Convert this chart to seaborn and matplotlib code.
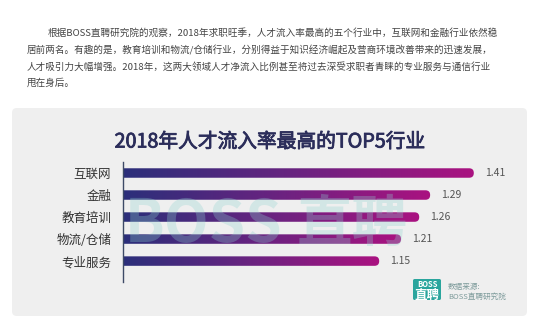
import numpy as np
import pandas as pd
import matplotlib.pyplot as plt
import matplotlib.patheffects as pe
import seaborn as sns
from matplotlib.colors import LinearSegmentedColormap
from matplotlib.patches import FancyBboxPatch

# 数据
industries = ['互联网', '金融', '教育培训', '物流/仓储', '专业服务']
inflow_rate = [1.41, 1.29, 1.26, 1.21, 1.15]
value_labels = ['1.41', '1.29', '1.26', '1.21', '1.15']

title = '2018年人才流入率最高的TOP5行业'
intro_lines = [
    '根据BOSS直聘研究院的观察，2018年求职旺季，人才流入率最高的五个行业中，互联网和金融行业依然稳',
    '居前两名。有趣的是，教育培训和物流/仓储行业，分别得益于知识经济崛起及营商环境改善带来的迅速发展，',
    '人才吸引力大幅增强。2018年，这两大领域人才净流入比例甚至将过去深受求职者青睐的专业服务与通信行业',
    '甩在身后。',
]
source_lines = ['数据来源:', 'BOSS直聘研究院']

sns.set_theme(style='white')
plt.rcParams['font.family'] = ['Noto Sans CJK SC', 'DejaVu Sans']

W, H = 544, 335
fig = plt.figure(figsize=(W / 100, H / 100), dpi=100)
fig.patch.set_facecolor('white')


def fx(x):
    return x / W


def fy(y):
    return 1 - y / H


# 灰色背景面板
panel = FancyBboxPatch((fx(12), fy(316)), (527 - 12) / W, (316 - 108) / H,
                       boxstyle='round,pad=0,rounding_size=0.009', mutation_aspect=W / H,
                       transform=fig.transFigure, facecolor='#efefef', edgecolor='none', zorder=-1)
fig.patches.append(panel)

# 导语文字
x_starts = [48, 27, 27, 27]
y_lines = [33, 50, 67, 83]
for line, xs, ys in zip(intro_lines, x_starts, y_lines):
    fig.text(fx(xs), fy(ys), line, ha='left', va='center', fontsize=6.9, color='#444444')

# 标题（加细描边，接近中等粗细）
fig.text(fx(270), fy(142), title, ha='center', va='center', fontsize=14.2,
         color='#2b2d5a', path_effects=[pe.withStroke(linewidth=0.6, foreground='#2b2d5a')])

# 条形图
ax = fig.add_axes([fx(123), fy(282), (500 - 123) / W, 120 / H])
ax.patch.set_alpha(0)
df = pd.DataFrame({'industry': industries, 'rate': inflow_rate})
sns.barplot(data=df, x='rate', y='industry', orient='h', width=0.43, color='#2b2f7a', ax=ax)

xlim = (0.446, 1.482)
ylim = (4.95, -0.5)
ax.set_xlim(xlim)
ax.set_ylim(ylim)

xpp = (xlim[1] - xlim[0]) / 377
ypp = (ylim[0] - ylim[1]) / 120
asp = ypp / xpp

# 渐变条：从深蓝到品红，右端圆角
cmap = LinearSegmentedColormap.from_list('bar', ['#2b2f7a', '#6a2380', '#aa1280'])
grad = np.linspace(0, 1, 256).reshape(1, -1)
for p in ax.patches:
    p.set_visible(False)
    y0, hh, x1 = p.get_y(), p.get_height(), p.get_x() + p.get_width()
    r = 0.49 * hh / asp
    clip = FancyBboxPatch((xlim[0] - 0.05, y0), x1 - xlim[0] + 0.05, hh,
                          boxstyle=f'round,pad=0,rounding_size={r}', mutation_aspect=asp,
                          facecolor='none', edgecolor='none', transform=ax.transData)
    ax.add_patch(clip)
    ax.imshow(grad, extent=(xlim[0], x1, y0 + hh, y0), aspect='auto', cmap=cmap,
              clip_path=clip, zorder=2, interpolation='bicubic')

ax.set_xlim(xlim)
ax.set_ylim(ylim)
ax.bar_label(ax.containers[0], labels=value_labels, padding=8, fontsize=7.5, color='#555555')

ax.set_xticks([])
ax.set_xlabel('')
ax.set_ylabel('')
ax.tick_params(axis='y', length=0, pad=8.5, labelsize=9, labelcolor='#333333')
for s in ['top', 'right', 'bottom']:
    ax.spines[s].set_visible(False)
ax.spines['left'].set_color('#3d4a66')
ax.spines['left'].set_linewidth(1)

# 水印
fig.text(fx(204), fy(225), 'BOSS', ha='center', va='center', fontsize=42,
         fontweight='bold', color='#8fd3d0', alpha=0.3, zorder=5)
fig.text(fx(352), fy(225), '直聘', ha='center', va='center', fontsize=40,
         fontweight='bold', color='#8fd3d0', alpha=0.3, zorder=5)

# 标志与数据来源
logo = FancyBboxPatch((fx(413), fy(300)), 28 / W, 21 / H,
                      boxstyle='round,pad=0,rounding_size=0.003', mutation_aspect=W / H,
                      transform=fig.transFigure, facecolor='#2aa59d', edgecolor='none', zorder=1)
fig.patches.append(logo)
fig.text(fx(427), fy(284.5), 'BOSS', ha='center', va='center', fontsize=5.5,
         fontweight='bold', color='white')
fig.text(fx(427), fy(295), '直聘', ha='center', va='center', fontsize=9,
         fontweight='bold', color='white')
fig.text(fx(448), fy(287), source_lines[0], ha='left', va='center', fontsize=5.5, color='#7d9b9b')
fig.text(fx(448), fy(297), source_lines[1], ha='left', va='center', fontsize=5.5, color='#7d9b9b')

fig.savefig('out.png', dpi=100)
